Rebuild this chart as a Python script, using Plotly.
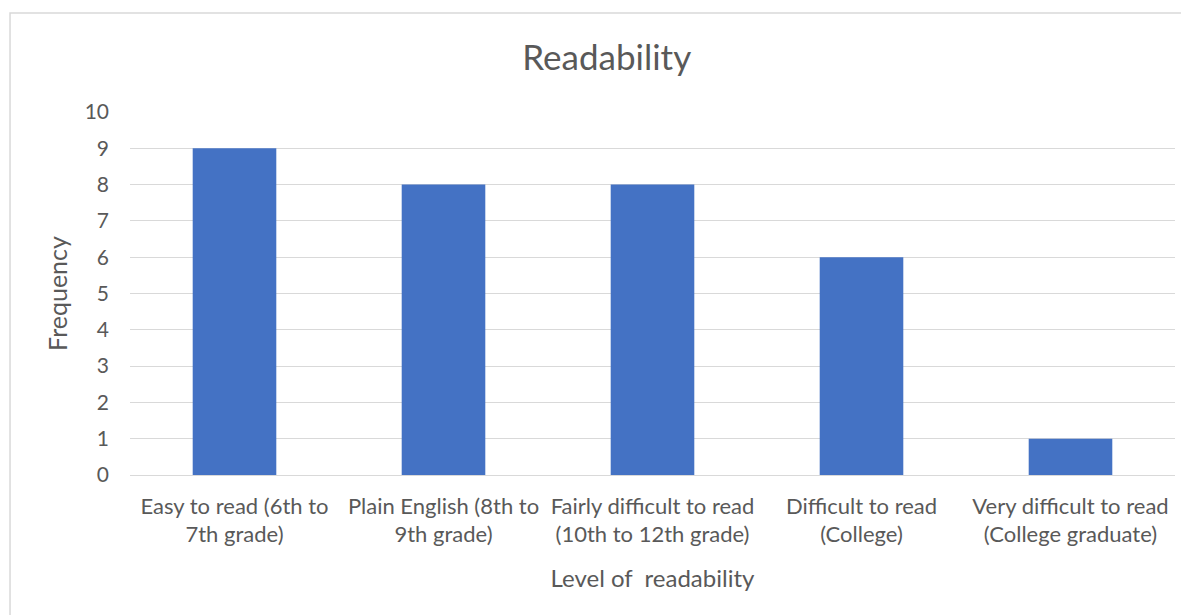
import plotly.graph_objects as go

categories = [
    "Easy to read (6th to<br>7th grade)",
    "Plain English (8th to<br>9th grade)",
    "Fairly difficult to read<br>(10th to 12th grade)",
    "Difficult to read<br>(College)",
    "Very difficult to read<br>(College graduate)",
]
frequency = [9, 8, 8, 6, 1]
y_ticks = list(range(0, 11))

TXT = "#595959"
GRID = "#d9d9d9"
FONT = "Lato"

W, H = 1181, 607  # page body has an 8px margin

fig = go.Figure(go.Bar(x=categories, y=frequency, marker=dict(color="#4472C4", line=dict(width=0))))

fig.update_layout(
    width=W, height=H,
    margin=dict(l=122, r=14, t=104, b=140),
    paper_bgcolor="white", plot_bgcolor="white",
    bargap=0.6,
    showlegend=False,
    font=dict(family=FONT, color=TXT, size=20),
    title=dict(text="Readability", x=0.507, xanchor="center", y=1 - 50 / H, yanchor="middle",
               font=dict(size=35, color=TXT, family=FONT)),
    shapes=[dict(type="rect", xref="paper", yref="paper", x0=-0.1148, x1=1.05, y0=-0.5, y1=1.2727,
                 line=dict(color=GRID, width=1.5), fillcolor="rgba(0,0,0,0)", layer="below")],
)
fig.update_yaxes(range=[0, 10], tickvals=y_ticks, showgrid=True, gridcolor=GRID, gridwidth=1.3,
                 zeroline=False, showline=False, ticks="", ticklabelstandoff=20,
                 tickfont=dict(size=21, color=TXT),
                 title=dict(text="Frequency", font=dict(size=25, color=TXT), standoff=9))
fig.update_xaxes(showline=True, linecolor=GRID, linewidth=1.3, ticks="", showgrid=False,
                 tickfont=dict(size=22, color=TXT), ticklabelstandoff=11,
                 title=dict(text="Level of &nbsp;readability", font=dict(size=24, color=TXT), standoff=24))

fig.write_html("out.html")
